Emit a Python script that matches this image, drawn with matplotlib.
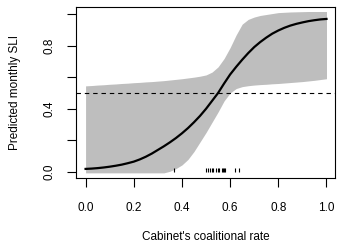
import matplotlib
matplotlib.use("Agg")
import matplotlib.pyplot as plt

plt.rcParams['font.family'] = ['Liberation Sans', 'DejaVu Sans']

# values, every 0.025 on the x axis
rate = [0.000, 0.025, 0.050, 0.075, 0.100, 0.125, 0.150, 0.175, 0.200, 0.225,
        0.250, 0.275, 0.300, 0.325, 0.350, 0.375, 0.400, 0.425, 0.450, 0.475,
        0.500, 0.525, 0.550, 0.575, 0.600, 0.625, 0.650, 0.675, 0.700, 0.725,
        0.750, 0.775, 0.800, 0.825, 0.850, 0.875, 0.900, 0.925, 0.950, 0.975,
        1.000]
pred = [0.020, 0.022, 0.025, 0.029, 0.034, 0.040, 0.047, 0.056, 0.066, 0.080,
        0.097, 0.117, 0.140, 0.163, 0.188, 0.215, 0.245, 0.278, 0.315, 0.355,
        0.400, 0.450, 0.500, 0.560, 0.617, 0.665, 0.710, 0.752, 0.790, 0.822,
        0.850, 0.875, 0.895, 0.912, 0.926, 0.937, 0.946, 0.954, 0.960, 0.965,
        0.968]
lower = [-0.005, -0.005, -0.005, -0.005, -0.005, -0.005, -0.005, -0.005, -0.005, -0.005,
         -0.005, -0.005, -0.005, -0.005, 0.005, 0.022, 0.045, 0.080, 0.130, 0.190,
         0.250, 0.315, 0.380, 0.450, 0.500, 0.528, 0.540, 0.546, 0.550, 0.553,
         0.555, 0.558, 0.560, 0.563, 0.566, 0.569, 0.572, 0.576, 0.580, 0.585,
         0.590]
upper = [0.545, 0.547, 0.550, 0.552, 0.555, 0.557, 0.560, 0.562, 0.565, 0.567,
         0.570, 0.572, 0.575, 0.578, 0.582, 0.586, 0.590, 0.595, 0.600, 0.606,
         0.614, 0.632, 0.665, 0.718, 0.787, 0.867, 0.935, 0.965, 0.980, 0.990,
         0.996, 1.002, 1.008, 1.010, 1.012, 1.013, 1.014, 1.015, 1.015, 1.015,
         1.015]
rug = [0.365, 0.500, 0.510, 0.515, 0.525, 0.530, 0.540, 0.550, 0.555, 0.565,
       0.570, 0.575, 0.580, 0.620, 0.635]
threshold = 0.5
xticks = [0.0, 0.2, 0.4, 0.6, 0.8, 1.0]
yticks = [0.0, 0.2, 0.4, 0.6, 0.8, 1.0]

fig = plt.figure(figsize=(3.39, 2.47), dpi=100)
ax = fig.add_axes([0.224, 0.279, 0.764, 0.693])

ax.fill_between(rate, lower, upper, color='#bebebe', linewidth=0)
ax.plot(rate, pred, color='black', linewidth=1.6)
ax.axhline(threshold, color='black', linewidth=0.8, linestyle=(0, (4, 3.5)))
ax.vlines(rug, 0.0, 0.025, color='black', linewidth=0.8)

ax.set_xlim(-0.04, 1.035)
ax.set_ylim(-0.038, 1.044)
ax.set_xticks(xticks)
ax.set_xticklabels(['%.1f' % v for v in xticks])
ax.set_yticks(yticks)
ax.set_yticklabels(['%.1f' % v if i % 2 == 0 else '' for i, v in enumerate(yticks)],
                   rotation=90, va='center')
ax.tick_params(axis='both', direction='out', length=6.5, width=0.8,
               labelsize=8.5, color='black')
ax.tick_params(axis='x', pad=10.5)
ax.tick_params(axis='y', pad=8.5)
for s in ax.spines.values():
    s.set_linewidth(0.8)

ax.set_xlabel("Cabinet's coalitional rate", fontsize=8.5, va='center')
ax.xaxis.set_label_coords(0.5, -0.345)
ax.set_ylabel("Predicted monthly SLI", fontsize=8.5, va='center')
ax.yaxis.set_label_coords(-0.234, 0.5)

fig.savefig('out.png', dpi=100)
